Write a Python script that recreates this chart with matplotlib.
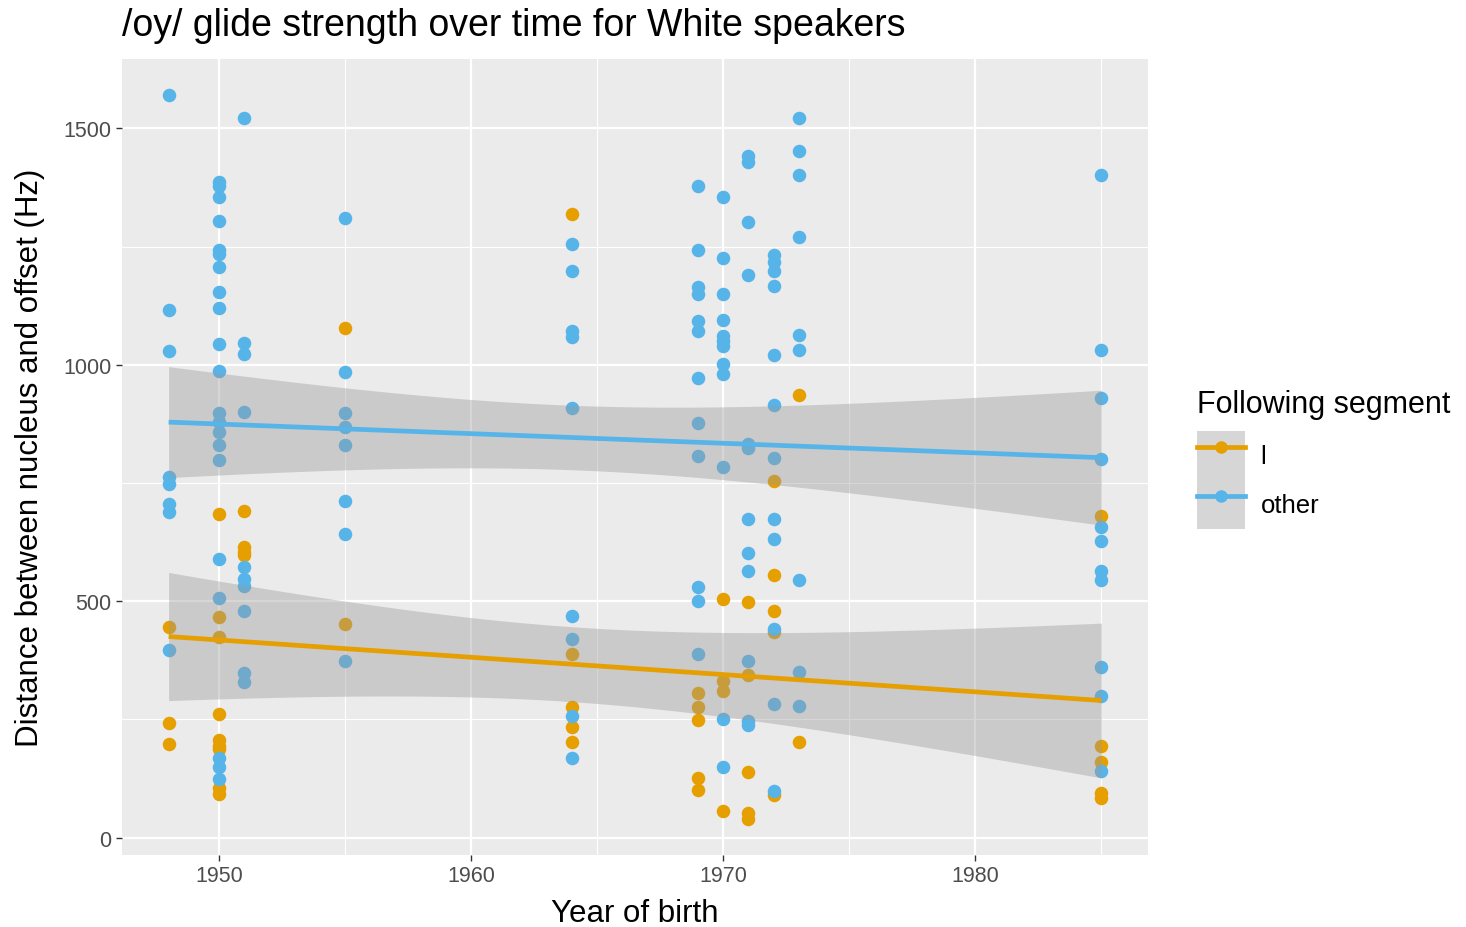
import numpy as np
import matplotlib
matplotlib.use("Agg")
import matplotlib.pyplot as plt
from matplotlib.lines import Line2D
from matplotlib.patches import Patch
from matplotlib.ticker import MultipleLocator

plt.rcParams['font.family'] = ['Liberation Sans', 'DejaVu Sans']

# following segment /l/
l_year = [1948]*3 + [1950]*9 + [1951]*4 + [1955]*2 + [1964]*5 + [1969]*5 + \
         [1970]*4 + [1971]*5 + [1972]*5 + [1973]*2 + [1985]*5
l_dist = [445, 243, 198,
          684, 466, 424, 262, 207, 195, 188, 105, 92,
          690, 614, 605, 597,
          1078, 451,
          1319, 388, 276, 234, 203,
          306, 276, 249, 127, 101,
          504, 331, 310, 57,
          498, 344, 139, 52, 40,
          755, 555, 479, 435, 91,
          937, 203,
          681, 194, 160, 95, 85]

# any other following segment
o_year = [1948]*8 + [1950]*21 + [1951]*10 + [1955]*8 + [1964]*9 + [1969]*12 + \
         [1970]*12 + [1971]*12 + [1972]*12 + [1973]*9 + [1985]*11
o_dist = [1570, 1116, 1030, 763, 748, 705, 688, 397,
          1386, 1378, 1354, 1304, 1243, 1234, 1207, 1154, 1120, 1044, 987,
          899, 880, 857, 831, 798, 589, 506, 169, 150, 125,
          1521, 1046, 1023, 900, 572, 546, 532, 479, 348, 329,
          1310, 985, 897, 869, 831, 711, 643, 373,
          1255, 1198, 1072, 1059, 909, 468, 420, 257, 169,
          1378, 1243, 1165, 1150, 1093, 1072, 973, 877, 808, 530, 500, 388,
          1354, 1226, 1150, 1095, 1061, 1051, 1040, 1002, 981, 783, 251, 150,
          1441, 1428, 1302, 1190, 833, 825, 673, 601, 563, 373, 247, 238,
          1232, 1217, 1198, 1167, 1021, 914, 802, 673, 631, 441, 283, 99,
          1521, 1451, 1401, 1270, 1063, 1032, 544, 350, 278,
          1401, 1032, 930, 800, 656, 628, 563, 544, 361, 300, 141]

labels = ["l", "other"]
colors = ["#E69F00", "#56B4E9"]
groups = [(np.array(l_year, float), np.array(l_dist, float)),
          (np.array(o_year, float), np.array(o_dist, float))]


def t975(df):
    # Cornish-Fisher expansion of the t quantile
    z = 1.959964
    return z + (z**3 + z) / (4*df) + (5*z**5 + 16*z**3 + 3*z) / (96*df**2)


def lm_band(x, y, grid):
    n = len(x)
    b, a = np.polyfit(x, y, 1)
    resid = y - (a + b*x)
    s = np.sqrt(np.sum(resid**2) / (n - 2))
    sxx = np.sum((x - x.mean())**2)
    se = s * np.sqrt(1/n + (grid - x.mean())**2 / sxx)
    fit = a + b*grid
    t = t975(n - 2)
    return fit, fit - t*se, fit + t*se


fig = plt.figure(figsize=(14.66, 9.28), dpi=100)
ax = fig.add_axes([122/1466, 1 - 856/928, 1026/1466, 796/928])
ax.set_facecolor("#EBEBEB")
for s in ax.spines.values():
    s.set_visible(False)

# points first, smoothers on top
for (x, y), c in zip(groups, colors):
    ax.scatter(x, y, s=95, color=c, linewidths=0, zorder=3)

for (x, y), c in zip(groups, colors):
    grid = np.linspace(x.min(), x.max(), 80)
    fit, lo, hi = lm_band(x, y, grid)
    ax.fill_between(grid, lo, hi, color="#999999", alpha=0.4, linewidth=0, zorder=4)
    ax.plot(grid, fit, color=c, linewidth=3.4, zorder=5, solid_capstyle="butt")

allx = np.concatenate([g[0] for g in groups])
ally = np.concatenate([g[1] for g in groups])
dx = (allx.max() - allx.min()) * 0.05
dy = (ally.max() - ally.min()) * 0.05
ax.set_xlim(allx.min() - dx, allx.max() + dx)
ax.set_ylim(ally.min() - dy, ally.max() + dy)

ax.xaxis.set_major_locator(MultipleLocator(10))
ax.xaxis.set_minor_locator(MultipleLocator(5))
ax.yaxis.set_major_locator(MultipleLocator(500))
ax.yaxis.set_minor_locator(MultipleLocator(250))
ax.grid(which="major", color="white", linewidth=1.6, zorder=0)
ax.grid(which="minor", color="white", linewidth=0.8, zorder=0)
ax.set_axisbelow(True)
ax.tick_params(which="major", length=4, width=1, color="#333333",
               labelcolor="#4D4D4D", labelsize=15.5, pad=3.5)
ax.tick_params(which="minor", length=0)

ax.set_xlabel("Year of birth", fontsize=22.5, color="black", labelpad=8.5)
ax.set_ylabel("Distance between nucleus and offset (Hz)", fontsize=22.5,
              color="black", labelpad=13)
ax.set_title("/oy/ glide strength over time for White speakers", fontsize=27,
             loc="left", pad=17)

# legend: title placed on its own, keys with the grey ribbon background
fig.text(1197/1466, 1 - 405/928, "Following segment", fontsize=22,
         ha="left", va="center")
handles = [(Patch(facecolor="#999999", alpha=0.4, linewidth=0),
            Line2D([], [], color=c, linewidth=3.4, marker="o", markersize=9,
                   markeredgewidth=0)) for c in colors]
leg = fig.legend(handles, labels,
                 loc="upper left", bbox_to_anchor=(1197/1466, 1 - 432/928),
                 frameon=False, fontsize=18.5,
                 handlelength=1.87, handleheight=2.56, labelspacing=0,
                 handletextpad=0.6, borderpad=0, borderaxespad=0)

fig.savefig("out.png", dpi=100)
